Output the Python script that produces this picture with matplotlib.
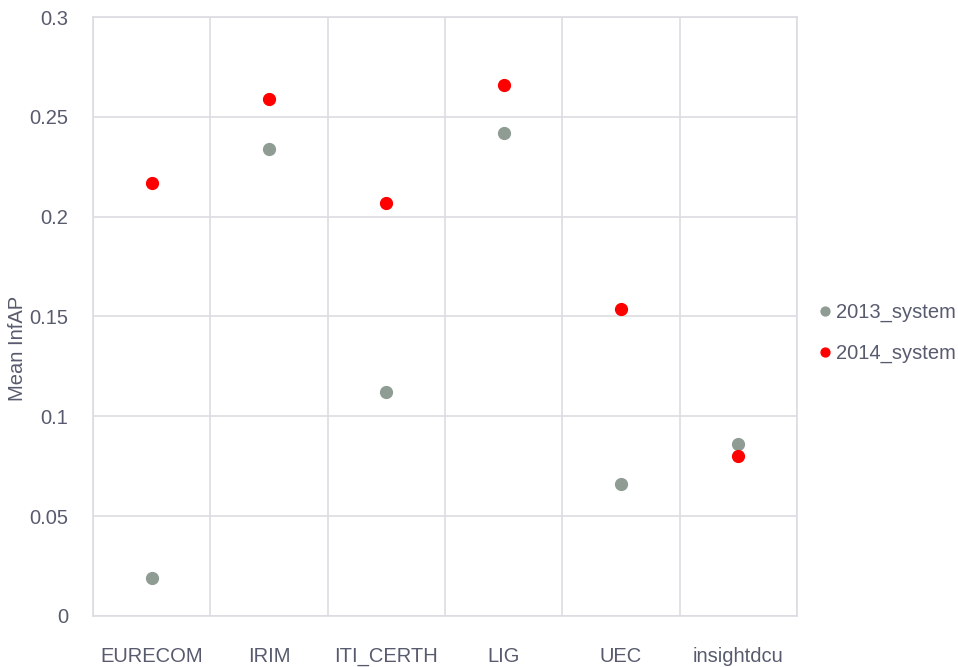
import matplotlib
matplotlib.use('Agg')
import matplotlib.pyplot as plt

systems = ['EURECOM', 'IRIM', 'ITI_CERTH', 'LIG', 'UEC', 'insightdcu']
sys2013 = [0.019, 0.234, 0.112, 0.242, 0.066, 0.086]
sys2014 = [0.217, 0.259, 0.207, 0.266, 0.154, 0.080]
yticks = [0, 0.05, 0.1, 0.15, 0.2, 0.25, 0.3]
ytick_labels = ['0', '0.05', '0.1', '0.15', '0.2', '0.25', '0.3']

txt = '#585b6e'
grid = '#dcdce2'
plt.rcParams['font.family'] = ['Liberation Sans', 'DejaVu Sans']
fs = 14.5

fig = plt.figure(figsize=(9.58, 6.67), dpi=100)
ax = fig.add_axes([0.0971, 0.0765, 0.7349, 0.898])

xs = range(len(systems))
ax.plot(xs, sys2013, 'o', color='#8e9c93', markersize=8.5, label='2013_system', zorder=3)
ax.plot(xs, sys2014, 'o', color='#ff0000', markersize=8.5, label='2014_system', zorder=3)

ax.set_xlim(-0.5, len(systems) - 0.5)
ax.set_ylim(0, 0.3)
ax.set_xticks(list(xs))
ax.set_xticklabels(systems)
ax.set_xticks([i - 0.5 for i in range(len(systems) + 1)], minor=True)
ax.set_yticks(yticks)
ax.set_yticklabels(ytick_labels)
ax.grid(True, axis='y', which='major', color=grid, linewidth=1.2)
ax.grid(True, axis='x', which='minor', color=grid, linewidth=1.2)
ax.tick_params(axis='both', which='both', length=0, labelsize=fs, colors=txt)
ax.tick_params(axis='x', pad=22)
ax.tick_params(axis='y', pad=18)
for s in ax.spines.values():
    s.set_color(grid)
    s.set_linewidth(1.2)

ax.set_ylabel('Mean InfAP', fontsize=fs, color=txt)
ax.yaxis.set_label_coords(-0.094, 0.447)

leg = ax.legend(loc='center left', bbox_to_anchor=(1.008, 0.4725), frameon=False,
                fontsize=fs, handlelength=0.4, handletextpad=0.35, labelspacing=1.1,
                markerscale=0.75)
for t in leg.get_texts():
    t.set_color(txt)

fig.savefig('out.png', dpi=100)
